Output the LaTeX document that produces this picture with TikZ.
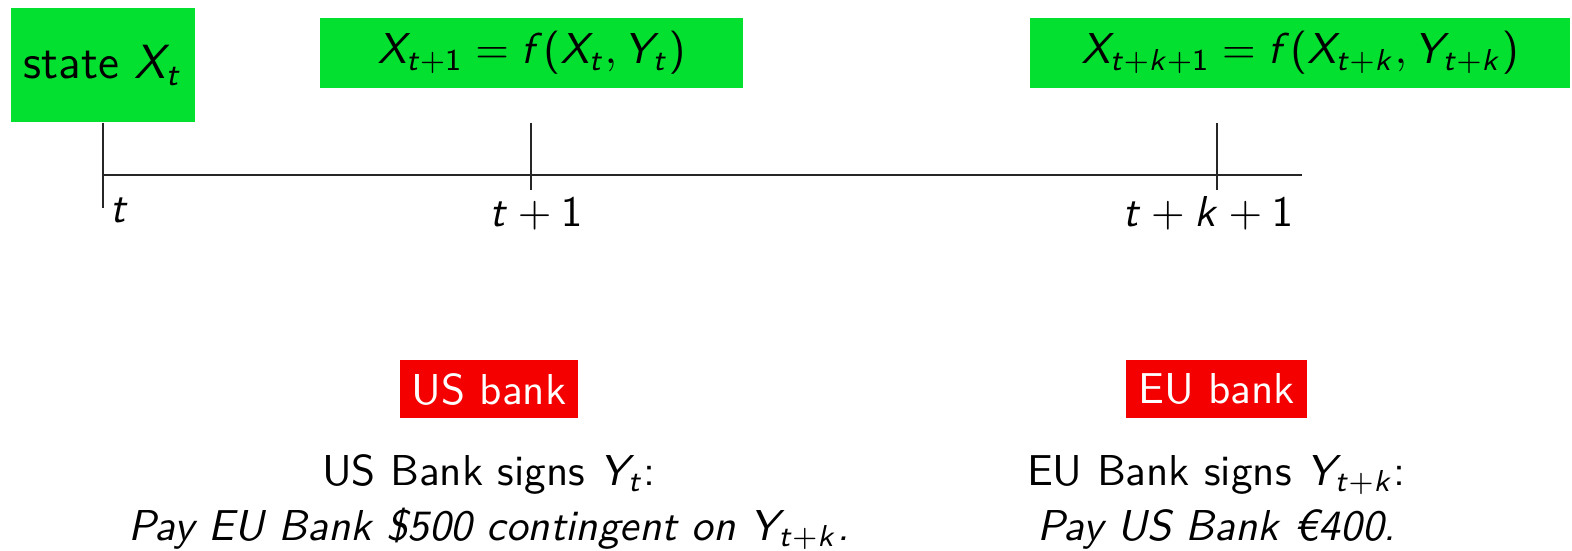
\RequirePackage{fix-cm}
\documentclass[tikz,border=0pt]{standalone}
\DeclareSymbolFont{operators}{OT1}{cmss}{m}{n}
\SetSymbolFont{operators}{bold}{OT1}{cmss}{bx}{n}
\DeclareSymbolFont{sfitalic}{OT1}{cmss}{m}{sl}
\DeclareMathSymbol{X}{\mathalpha}{sfitalic}{`X}
\DeclareMathSymbol{Y}{\mathalpha}{sfitalic}{`Y}
\DeclareMathSymbol{f}{\mathalpha}{sfitalic}{`f}
\DeclareMathSymbol{t}{\mathalpha}{sfitalic}{`t}
\DeclareMathSymbol{k}{\mathalpha}{sfitalic}{`k}
\definecolor{boxgreen}{RGB}{4,224,48}
\definecolor{boxred}{RGB}{245,0,0}
\newcommand\bodysize{\fontsize{10.8}{13.75}\selectfont}
\newcommand\statesize{\fontsize{12}{14}\selectfont}
\begin{document}
\begin{tikzpicture}[x=0.25pt,y=-0.25pt,
  every node/.style={font=\sffamily\bodysize},
  greenbox/.style={fill=boxgreen,inner sep=0pt,text=black},
  redbox/.style={fill=boxred,inner sep=0pt,text=white,minimum height=14.5pt},
  axis/.style={line width=0.5pt,draw=black!85},
  lbl/.style={anchor=base,inner sep=0pt},
  body/.style={anchor=base,inner sep=0pt}]
\useasboundingbox (0,0) rectangle (1572,550);
% green boxes
\node[greenbox,minimum width=46pt,minimum height=28.5pt,font=\sffamily\statesize] (s0) at (103,65) {state $X_t$};
\node[greenbox,minimum width=105.75pt,minimum height=17.5pt] (s1) at (531.5,53) {$X_{t+1} = f(X_t, Y_t)$};
\node[greenbox,minimum width=135pt,minimum height=17.5pt] (s2) at (1300,53) {$X_{t+k+1} = f(X_{t+k}, Y_{t+k})$};
% timeline
\coordinate (a0) at (103,175);
\coordinate (a1) at (1302,175);
\coordinate (t0b) at (103,208);
\coordinate (t1t) at (531,123);
\coordinate (t1b) at (531,190);
\coordinate (t2t) at (1217,123);
\coordinate (t2b) at (1217,190);
\draw[axis] (a0) -- (a1);
\draw[axis] (s0.south) -- (t0b);
\draw[axis] (t1t) -- (t1b);
\draw[axis] (t2t) -- (t2b);
\node[anchor=base west,inner sep=0pt] (l0) at (109,222) {$t$};
\node[lbl] (l1) at (536,226) {$t+1$};
\node[lbl] (l2) at (1208,226) {$t+k+1$};
% red boxes
\node[redbox,minimum width=44.5pt] (us) at (489,389) {US bank};
\node[redbox,minimum width=45.25pt] (eu) at (1216.5,389) {EU bank};
% texts
\node[body] (us1) at (489,485) {US Bank signs $Y_t$:};
\node[body,font=\sffamily\bodysize\itshape] (us2) at (489,540) {Pay EU Bank \$500 contingent on $Y_{t+k}$.};
\node[body] (eu1) at (1216.5,485) {EU Bank signs $Y_{t+k}$:};
\node[body,font=\sffamily\bodysize\itshape] (eu2) at (1216.5,540) {Pay US Bank €400.};
\end{tikzpicture}
\end{document}
